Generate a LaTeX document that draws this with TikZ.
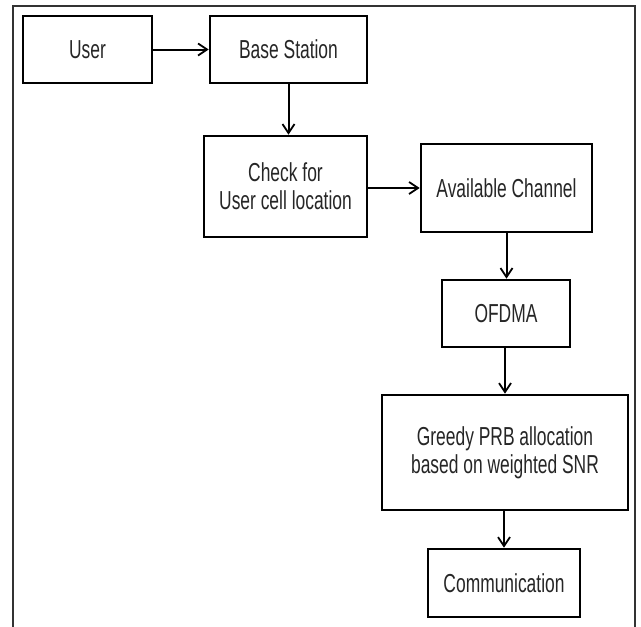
\documentclass[tikz,border=0pt]{standalone}
\usepackage{fontspec}
\newfontfamily\diagfont[FakeStretch=0.67]{Liberation Sans}
\usetikzlibrary{arrows.meta}
\begin{document}
\begin{tikzpicture}[x=1pt,y=-1pt,
  box/.style={draw=black,line width=2.6pt,rectangle,inner sep=0pt,align=center,
    font=\diagfont\fontsize{26}{28}\selectfont,text=black!85},
  conn/.style={line width=2pt,-{Straight Barb[length=9pt,width=12pt,line width=1.8pt]}}]
\useasboundingbox (0,0) rectangle (641,627);
\fill[white] (0,0) rectangle (641,627);
\draw[line width=1.6pt,black!80] (13,627) -- (13,6) -- (635,6) -- (635,627);
\node[box,minimum width=129pt,minimum height=67pt] (user) at (87.5,49.5) {User};
\node[box,minimum width=157pt,minimum height=67pt] (bs) at (288.5,49.5) {Base Station};
\node[box,minimum width=163pt,minimum height=101pt] (check) at (285.5,186.5) {Check for\\User cell location};
\node[box,minimum width=171pt,minimum height=88pt] (avail) at (506.5,188) {Available Channel};
\node[box,minimum width=128pt,minimum height=67pt] (ofdma) at (506,313.5) {OFDMA};
\node[box,minimum width=246pt,minimum height=115pt] (greedy) at (505,452.5) {Greedy PRB allocation\\based on weighted SNR};
\node[box,minimum width=152pt,minimum height=68pt] (comm) at (504,583) {Communication};
\draw[conn] (user.east) -- (bs.west);
\draw[conn] (bs.south) -- (bs.south |- check.north);
\draw[conn] (check.east |- avail.west) -- (avail.west);
\draw[conn] (avail.south) -- (avail.south |- ofdma.north);
\draw[conn] (ofdma.south -| greedy.north) -- (greedy.north);
\draw[conn] (greedy.south -| comm.north) -- (comm.north);
\end{tikzpicture}
\end{document}
